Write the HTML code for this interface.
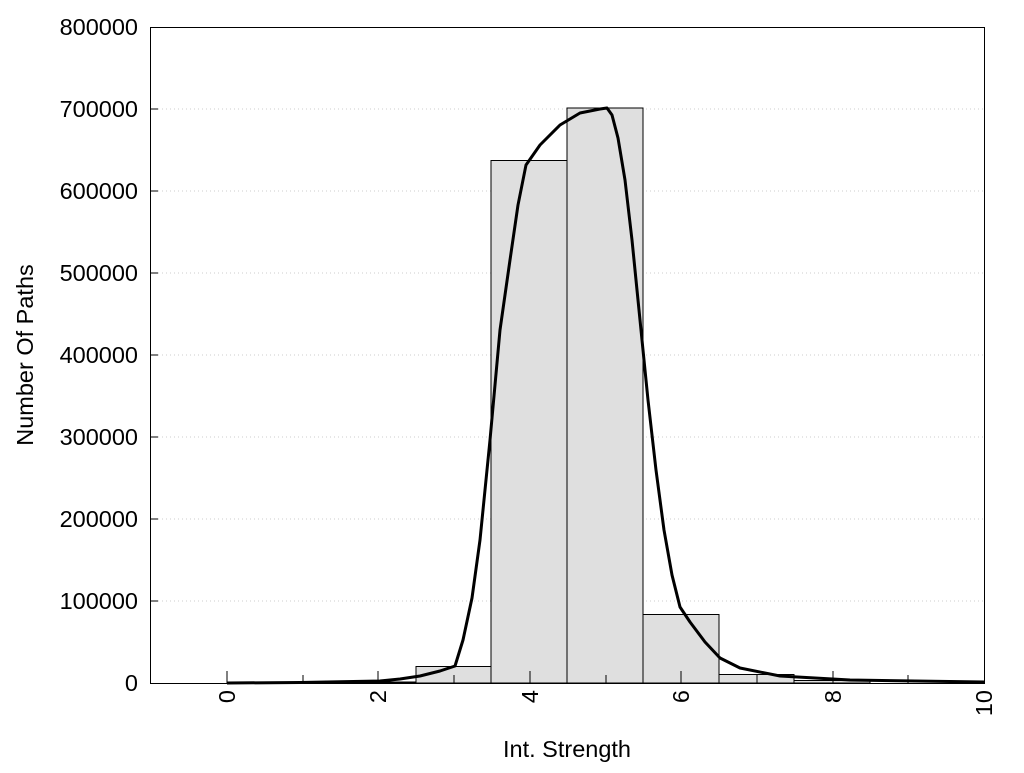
<!DOCTYPE html>
<html><head><style>body{margin:0;background:#fff}</style></head><body>
<svg width="1024" height="768" xmlns="http://www.w3.org/2000/svg" font-family="Liberation Sans, sans-serif" font-size="23.5">
<rect width="1024" height="768" fill="#fff"/>
<g stroke="#ccc" stroke-dasharray="1,3" stroke-width="1">
<line x1="150" x2="984" y1="601" y2="601"/><line x1="150" x2="984" y1="519" y2="519"/>
<line x1="150" x2="984" y1="437" y2="437"/><line x1="150" x2="984" y1="355" y2="355"/>
<line x1="150" x2="984" y1="273" y2="273"/><line x1="150" x2="984" y1="191" y2="191"/>
<line x1="150" x2="984" y1="109" y2="109"/>
</g>
<g fill="#dfdfdf" stroke="#000" stroke-width="1">
<rect x="227" y="682" width="75" height="1"/>
<rect x="340" y="682" width="76" height="1"/>
<rect x="416" y="666.5" width="75" height="16.5"/>
<rect x="491" y="160.5" width="76" height="522.5"/>
<rect x="567" y="108" width="76" height="575"/>
<rect x="643" y="614.5" width="76" height="68.5"/>
<rect x="719" y="674.5" width="75" height="8.5"/>
<rect x="794" y="680.5" width="76" height="2.5"/>
</g>
<rect x="150.5" y="27.5" width="834" height="656" fill="none" stroke="#000" stroke-width="1"/>
<g stroke="#000">
<line x1="150" x2="158" y1="601" y2="601"/><line x1="150" x2="158" y1="519" y2="519"/>
<line x1="150" x2="158" y1="437" y2="437"/><line x1="150" x2="158" y1="355" y2="355"/>
<line x1="150" x2="158" y1="273" y2="273"/><line x1="150" x2="158" y1="191" y2="191"/>
<line x1="150" x2="158" y1="109" y2="109"/>
<line x1="227" x2="227" y1="683" y2="671"/><line x1="303" x2="303" y1="683" y2="675"/>
<line x1="378" x2="378" y1="683" y2="671"/><line x1="454" x2="454" y1="683" y2="675"/>
<line x1="530" x2="530" y1="683" y2="671"/><line x1="606" x2="606" y1="683" y2="675"/>
<line x1="681" x2="681" y1="683" y2="671"/><line x1="757" x2="757" y1="683" y2="675"/>
<line x1="833" x2="833" y1="683" y2="671"/><line x1="908" x2="908" y1="683" y2="675"/>
</g>
<polyline fill="none" stroke="#000" stroke-width="3" stroke-linejoin="round" points="227,683 300,682.5 380,681 400,679 420,676 440,671 455,666 463,640 472,598 480,540 490,440 500,330 510,260 518,205 526,165 540,145 560,125 580,113 600,109 607,108 612,115 618,138 625,180 632,240 640,320 648,400 656,470 664,530 672,575 680,607 690,622 705,642 720,658 740,668 780,676 850,680 984,682"/>
<g text-anchor="end">
<text x="138" y="691">0</text><text x="138" y="609">100000</text><text x="138" y="527">200000</text>
<text x="138" y="445">300000</text><text x="138" y="363">400000</text><text x="138" y="281">500000</text>
<text x="138" y="199">600000</text><text x="138" y="117">700000</text><text x="138" y="35">800000</text>
</g>
<g text-anchor="end">
<text transform="translate(235,690) rotate(-90)">0</text>
<text transform="translate(386,690) rotate(-90)">2</text>
<text transform="translate(538,690) rotate(-90)">4</text>
<text transform="translate(689,690) rotate(-90)">6</text>
<text transform="translate(841,690) rotate(-90)">8</text>
<text transform="translate(992,690) rotate(-90)">10</text>
</g>
<text x="567" y="757" text-anchor="middle">Int. Strength</text>
<text transform="translate(33,355) rotate(-90)" text-anchor="middle">Number Of Paths</text>
</svg>
</body></html>
